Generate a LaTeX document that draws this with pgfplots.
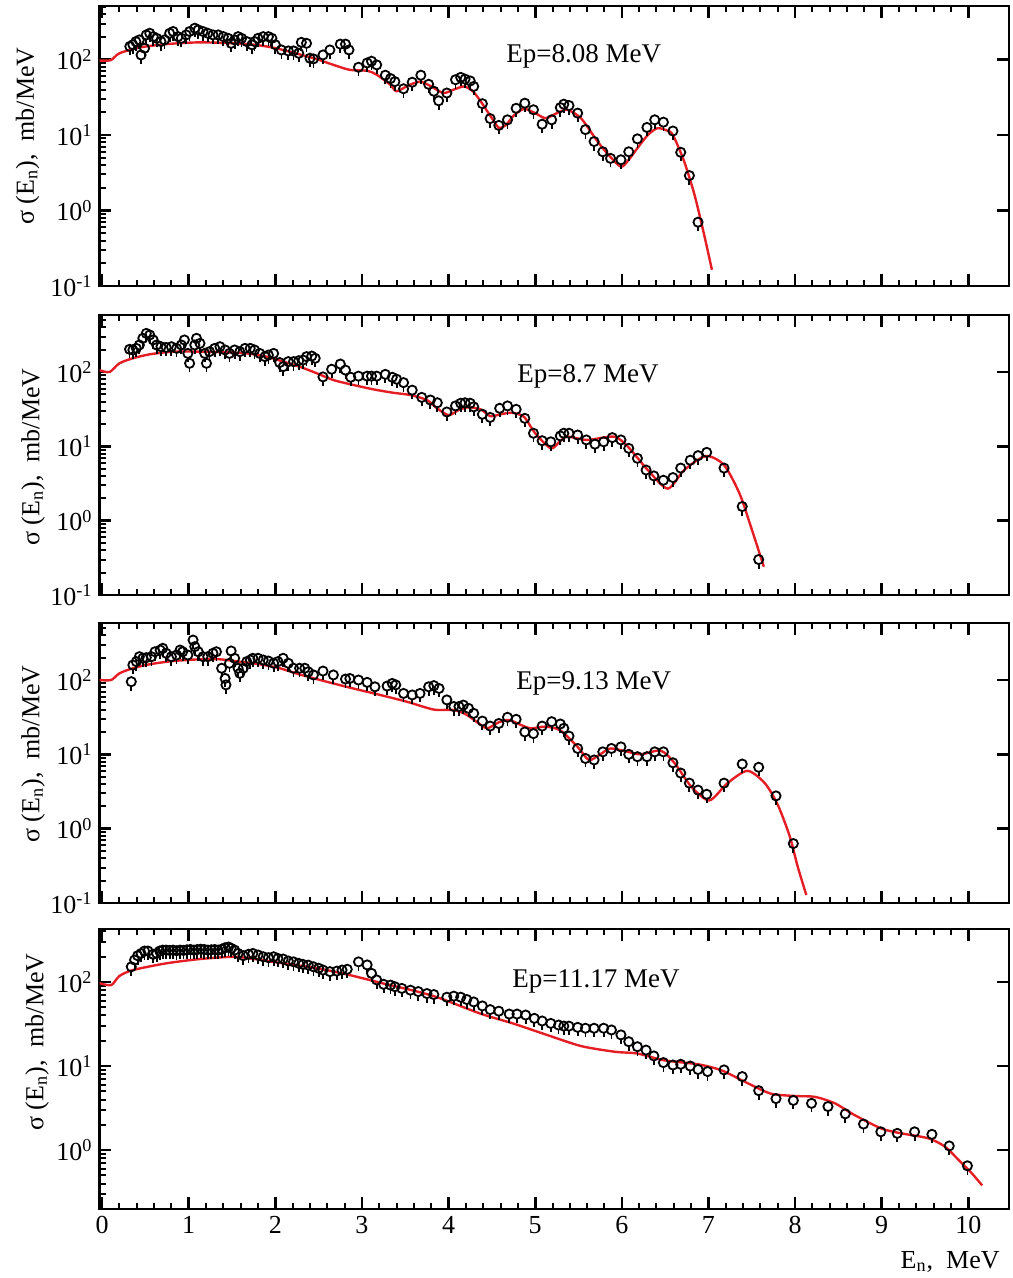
\documentclass[border=0pt]{standalone}
\usepackage{pgfplots}
\pgfplotsset{compat=1.18}
\usepackage{fontspec}
\setmainfont{Liberation Serif}
\definecolor{cred}{RGB}{228,30,36}
\pgfdeclareplotmark{qo}{%
  \pgfpathcircle{\pgfpointorigin}{\pgfplotmarksize}%
  \pgfusepathqstroke
  \pgfpathmoveto{\pgfpoint{0pt}{-\pgfplotmarksize}}%
  \pgfpathlineto{\pgfpoint{0pt}{-\pgfplotmarksize-2.2pt}}%
  \pgfusepathqstroke}
\pgfplotsset{
  mypanel/.style={scale only axis, width=454.75pt, height=140pt,
    xmin=-0.03, xmax=10.47,
    xtick={0,1,2,3,4,5,6,7,8,9,10}, minor x tick num=4,
    tick align=inside, major tick length=6pt, minor tick length=3pt,
    axis line style={line width=1.4pt},
    major tick style={black, line width=1.3pt},
    minor tick style={black, line width=1.0pt},
    tick label style={font=\fontsize{13}{15}\selectfont},
    xticklabels={}, clip=true},
  mypantop/.style={ytick={0.1,1,10,100},
    yticklabels={10\textsuperscript{-1},10\textsuperscript{0},10\textsuperscript{1},10\textsuperscript{2}},
    minor ytick={0.2,0.3,0.4,0.5,0.6,0.7,0.8,0.9,2,3,4,5,6,7,8,9,20,30,40,50,60,70,80,90,200,300,400,500}},
  myright/.style={scale only axis, width=454.75pt, height=140pt,
    xmin=-0.03, xmax=10.47,
    axis line style={draw=none}, xtick=\empty, ytick pos=right,
    tick align=inside, major tick length=6pt, minor tick length=0pt,
    major tick style={black, line width=1.3pt}, yticklabels={}},
  mydat/.style={only marks, mark=qo, mark size=2.3pt, black, mark options={line width=0.9pt}},
  myfit/.style={cred, line width=1.2pt, smooth, tension=0.45, mark=none}
}
\begin{document}
\begin{tikzpicture}
\path[use as bounding box] (0,0) rectangle (506pt,-639pt);
% ---------------- Panel 1 ----------------
\begin{axis}[mypanel, mypantop, ymode=log, at={(49.75pt,-3pt)}, anchor=north west, ytick pos=left, ymin=0.1, ymax=512]
\addplot[mydat] coordinates {
(0.32,149)(0.355,157)(0.39,173)(0.43,182)(0.45,115)(0.49,141)(0.51,212)(0.55,223)(0.59,201)(0.63,191)
(0.68,173)(0.72,182)(0.78,223)(0.82,235)(0.876,201)(0.915,191)(0.97,212)(1.01,235)(1.07,260)(1.11,247)
(1.165,235)(1.22,223)(1.28,212)(1.34,212)(1.40,201)(1.455,191)(1.49,164)(1.53,182)(1.57,201)(1.61,191)
(1.67,173)(1.73,157)(1.76,173)(1.80,191)(1.86,201)(1.92,201)(1.96,191)(2.00,157)(2.07,134)(2.15,130)
(2.21,130)(2.27,121)(2.30,169)(2.36,164)(2.40,104)(2.44,102)(2.55,115)(2.63,134)(2.75,160)(2.81,160)
(2.85,134)(2.96,79)(3.06,90)(3.11,95)(3.17,85)(3.27,62)(3.33,56)(3.38,51)(3.48,41)(3.58,50)
(3.68,62)(3.77,47)(3.83,38)(3.885,28.4)(3.98,36)(4.08,54)(4.14,58)(4.19,55)(4.25,52)(4.29,44)
(4.39,26)(4.48,16.5)(4.58,13.4)(4.68,15.9)(4.78,22.6)(4.88,26.4)(4.98,21.6)(5.08,13.9)(5.19,15.9)(5.29,23.1)
(5.33,25.6)(5.39,24.6)(5.49,19.5)(5.58,11.8)(5.68,8.2)(5.78,6.0)(5.87,4.9)(5.99,4.7)(6.08,6.0)(6.18,8.9)
(6.29,12.6)(6.38,15.9)(6.48,14.8)(6.59,11.3)(6.68,5.9)(6.78,2.9)(6.88,0.70)};
\addplot[myfit] coordinates {
(-0.03,97)(0.1,98)(0.2,121)(0.43,144)(0.74,160)(1.13,169)(1.51,164)(1.78,156)(2.01,141)(2.28,117)
(2.48,101)(2.67,85)(2.86,73)(3.06,71)(3.17,63)(3.33,46)(3.40,38)(3.53,45)(3.67,51)(3.80,44)
(3.94,36)(4.06,40)(4.18,44)(4.28,38)(4.37,28)(4.50,16.7)(4.58,12.5)(4.66,13.5)(4.75,18)(4.87,22.2)
(5.0,19.5)(5.12,16.7)(5.25,19.5)(5.37,21.6)(5.53,16.6)(5.72,8.2)(5.85,5.4)(5.99,3.8)(6.08,4.7)(6.18,6.7)
(6.30,10)(6.41,12.3)(6.52,11.5)(6.59,10)(6.72,4.46)(6.84,1.6)(6.95,0.48)(7.04,0.164)};
\end{axis}
\begin{axis}[myright, ymode=log, at={(49.75pt,-3pt)}, anchor=north west, ymin=0.1, ymax=512, ytick={0.1,1,10,100}]
\end{axis}
% ---------------- Panel 2 ----------------
\begin{axis}[mypanel, mypantop, ymode=log, at={(49.75pt,-157.5pt)}, anchor=north west, ytick pos=left, ymin=0.1, ymax=585]
\addplot[mydat] coordinates {
(0.317,202)(0.355,198)(0.395,208)(0.43,231)(0.47,284)(0.51,331)(0.55,315)(0.59,270)(0.63,231)(0.68,219)
(0.74,214)(0.80,219)(0.86,208)(0.915,231)(0.95,270)(0.99,178)(1.01,131)(1.07,231)(1.09,284)(1.13,243)
(1.185,178)(1.205,131)(1.24,188)(1.30,208)(1.36,219)(1.42,198)(1.47,178)(1.53,198)(1.59,188)(1.65,208)
(1.71,208)(1.76,198)(1.82,178)(1.88,161)(1.92,169)(1.98,178)(2.05,134)(2.09,118)(2.15,138)(2.21,138)
(2.27,142)(2.32,145)(2.36,161)(2.42,164)(2.46,153)(2.55,86)(2.65,109)(2.75,128)(2.81,106)(2.87,85)
(2.96,88)(3.06,88)(3.11,88)(3.17,88)(3.27,93)(3.35,85)(3.40,80)(3.48,72)(3.58,57)(3.69,45.6)
(3.79,42)(3.87,38.6)(3.98,29)(4.08,35)(4.14,38)(4.19,38.6)(4.25,38)(4.29,34)(4.39,27)(4.48,24.5)
(4.59,32.5)(4.68,35)(4.78,31.5)(4.88,23.8)(4.98,15)(5.08,11.9)(5.18,11.5)(5.29,13.8)(5.33,15)(5.39,15)
(5.49,14.2)(5.59,12.2)(5.69,10.7)(5.79,11.5)(5.89,13.1)(5.99,12.2)(6.08,9.4)(6.18,6.9)(6.28,4.8)(6.37,4.0)
(6.48,3.5)(6.59,3.8)(6.68,5.1)(6.79,6.5)(6.88,7.5)(6.98,8.3)(7.18,5.1)(7.39,1.55)(7.58,0.30)};
\addplot[myfit] coordinates {
(-0.03,106)(0.086,100)(0.2,131)(0.355,153)(0.55,173)(0.82,188)(1.13,188)(1.44,184)(1.67,178)(1.90,161)
(2.09,138)(2.28,118)(2.48,96)(2.67,78)(2.90,67)(3.13,58.5)(3.36,52.6)(3.56,49)(3.75,42)(3.86,33)
(4.0,26.3)(4.12,31)(4.23,33.5)(4.37,31.5)(4.48,25.5)(4.60,27)(4.73,28.3)(4.87,25)(5.0,15)(5.18,9.4)
(5.28,11.5)(5.37,13.5)(5.60,12.2)(5.91,13.5)(6.07,9.9)(6.30,4.8)(6.53,2.7)(6.72,4.8)(6.97,7.4)(7.18,5.6)
(7.36,2.3)(7.49,0.83)(7.64,0.24)};
\end{axis}
\begin{axis}[myright, ymode=log, at={(49.75pt,-157.5pt)}, anchor=north west, ymin=0.1, ymax=585, ytick={0.1,1,10,100}]
\end{axis}
% ---------------- Panel 3 ----------------
\begin{axis}[mypanel, mypantop, ymode=log, at={(49.75pt,-311.5pt)}, anchor=north west, ytick pos=left, ymin=0.1, ymax=585]
\addplot[mydat] coordinates {
(0.337,95)(0.355,159)(0.395,177)(0.43,206)(0.47,196)(0.51,200)(0.57,206)(0.61,240)(0.67,253)(0.70,267)
(0.74,229)(0.80,206)(0.86,217)(0.90,253)(0.93,240)(0.99,217)(1.05,345)(1.07,281)(1.11,240)(1.165,206)
(1.22,206)(1.28,229)(1.32,240)(1.38,144)(1.42,105)(1.43,86)(1.47,168)(1.49,246)(1.53,196)(1.57,144)
(1.59,123)(1.63,144)(1.67,177)(1.71,186)(1.74,196)(1.80,196)(1.86,186)(1.92,180)(1.98,168)(2.03,177)
(2.09,196)(2.15,168)(2.21,144)(2.28,144)(2.34,144)(2.38,129)(2.44,117)(2.55,132)(2.67,117)(2.81,103)
(2.86,105)(2.96,100)(3.06,93)(3.15,81)(3.29,83)(3.35,90)(3.39,86)(3.48,66)(3.58,63)(3.67,66)
(3.77,81)(3.83,84)(3.89,77)(3.98,54)(4.06,44)(4.12,44)(4.17,46)(4.23,41.6)(4.29,35.6)(4.39,28)
(4.48,24)(4.58,26)(4.68,31.5)(4.78,29.6)(4.88,20)(4.98,19)(5.08,24)(5.19,27.5)(5.29,25.6)(5.33,22.4)
(5.39,17.6)(5.49,12)(5.58,8.8)(5.68,8.4)(5.78,10.8)(5.88,12)(5.99,12.6)(6.08,10)(6.18,9.3)(6.29,9.3)
(6.38,10.8)(6.48,10.8)(6.59,7.7)(6.68,5.6)(6.78,4.1)(6.88,3.3)(6.98,2.9)(7.18,4.1)(7.39,7.4)(7.58,6.7)
(7.78,2.76)(7.98,0.63)};
\addplot[myfit] coordinates {
(-0.03,100)(0.105,100)(0.2,123)(0.355,144)(0.55,163)(0.82,180)(1.13,190)(1.36,190)(1.59,176)(1.82,163)
(2.05,144)(2.28,119)(2.59,95)(2.90,77)(3.21,63)(3.52,51)(3.83,40)(4.06,39.5)(4.21,34)(4.37,25)
(4.45,22.4)(4.58,27)(4.70,29)(4.83,25)(4.95,22.4)(5.12,23.6)(5.29,21)(5.49,12.6)(5.62,8.4)(5.75,10)
(5.87,12)(6.07,10.8)(6.22,10)(6.45,11.2)(6.61,7.6)(6.80,3.7)(7.01,2.4)(7.22,4.1)(7.45,6.0)(7.65,4.1)
(7.80,2.1)(7.94,0.78)(8.03,0.31)(8.13,0.128)};
\end{axis}
\begin{axis}[myright, ymode=log, at={(49.75pt,-311.5pt)}, anchor=north west, ymin=0.1, ymax=585, ytick={0.1,1,10,100}]
\end{axis}
% ---------------- Panel 4 ----------------
\begin{axis}[mypanel, ymode=log, at={(49.75pt,-464.5pt)}, anchor=north west, ytick pos=left, ymin=0.199, ymax=428,
  ytick={1,10,100}, yticklabels={10\textsuperscript{0},10\textsuperscript{1},10\textsuperscript{2}},
  minor ytick={0.2,0.3,0.4,0.5,0.6,0.7,0.8,0.9,2,3,4,5,6,7,8,9,20,30,40,50,60,70,80,90,200,300,400},
  xticklabels={0,1,2,3,4,5,6,7,8,9,10}]
\addplot[mydat] coordinates {
(0.337,152)(0.375,183)(0.41,206)(0.45,219)(0.49,234)(0.53,234)(0.59,214)(0.63,219)(0.665,234)(0.70,240)
(0.74,240)(0.78,238)(0.82,240)(0.86,236)(0.90,240)(0.94,238)(0.98,242)(1.02,244)(1.06,240)(1.10,244)
(1.14,246)(1.18,244)(1.22,240)(1.26,242)(1.30,244)(1.34,240)(1.38,246)(1.42,256)(1.46,261)(1.49,252)
(1.53,240)(1.57,219)(1.63,206)(1.69,214)(1.74,219)(1.80,210)(1.86,200)(1.92,195)(1.98,200)(2.03,191)
(2.09,188)(2.15,178)(2.21,174)(2.27,167)(2.32,162)(2.38,159)(2.44,152)(2.50,146)(2.55,139)(2.63,133)
(2.71,135)(2.77,139)(2.83,142)(2.96,174)(3.06,160)(3.11,127)(3.17,106)(3.25,94)(3.33,92)(3.38,88)
(3.46,84)(3.56,80)(3.65,77)(3.75,73)(3.83,71)(3.98,66)(4.06,68)(4.14,66)(4.21,62)(4.29,58)
(4.39,52)(4.48,47)(4.58,45)(4.70,41.6)(4.79,41.6)(4.89,40.5)(4.99,37)(5.08,34.4)(5.18,32.2)(5.27,30.8)
(5.33,29.9)(5.39,29.9)(5.49,28.9)(5.58,28.2)(5.68,28.2)(5.79,28.2)(5.88,26.9)(5.99,23.5)(6.08,19.5)(6.18,17)
(6.28,15.5)(6.37,13.2)(6.48,11)(6.59,10.3)(6.68,10.5)(6.79,10)(6.88,9.1)(6.99,8.6)(7.18,9)(7.39,7.5)
(7.58,5.1)(7.78,4.1)(7.98,3.9)(8.19,3.6)(8.38,3.3)(8.58,2.7)(8.79,2.04)(8.99,1.65)(9.18,1.58)(9.38,1.65)
(9.58,1.54)(9.78,1.12)(9.99,0.65)};
\addplot[myfit] coordinates {
(-0.03,97)(0.105,92)(0.2,118)(0.355,139)(0.74,167)(1.13,188)(1.51,200)(1.71,191)(2.09,167)(2.48,146)
(2.86,121)(3.25,96)(3.64,77)(3.905,64)(4.37,42)(4.75,32)(5.14,23.4)(5.53,17.3)(5.92,14.8)(6.18,14.1)
(6.49,11.7)(6.88,10.5)(7.15,8.9)(7.46,6.2)(7.72,4.7)(8.0,4.4)(8.23,4.3)(8.46,3.6)(8.69,2.6)(9.0,1.8)
(9.23,1.58)(9.54,1.38)(9.73,1.1)(9.89,0.76)(10.04,0.53)(10.16,0.38)};
\end{axis}
\begin{axis}[myright, ymode=log, at={(49.75pt,-464.5pt)}, anchor=north west, ymin=0.199, ymax=428, ytick={1,10,100}]
\end{axis}
% ---------------- labels ----------------
\begin{scope}[every node/.style={font=\fontsize{13}{15}\selectfont, inner sep=0pt}]
\node[rotate=90] at (13.75pt,-68pt) {σ (E\textsubscript{n}),\ \ mb/MeV};
\node[rotate=90] at (16.5pt,-228.5pt) {σ (E\textsubscript{n}),\ \ mb/MeV};
\node[rotate=90] at (16.5pt,-377pt) {σ (E\textsubscript{n}),\ \ mb/MeV};
\node[rotate=90] at (18.5pt,-521pt) {σ (E\textsubscript{n}),\ \ mb/MeV};
\node[anchor=base east] at (500pt,-634pt) {E\textsubscript{n},\ \ MeV};
\end{scope}
\begin{scope}[every node/.style={font=\fontsize{13.5}{16}\selectfont, inner sep=0pt, anchor=base west}]
\node at (253pt,-31.5pt) {Ep=8.08 MeV};
\node at (258.5pt,-191pt) {Ep=8.7 MeV};
\node at (258pt,-344.5pt) {Ep=9.13 MeV};
\node at (256pt,-493.5pt) {Ep=11.17 MeV};
\end{scope}
\end{tikzpicture}
\end{document}
